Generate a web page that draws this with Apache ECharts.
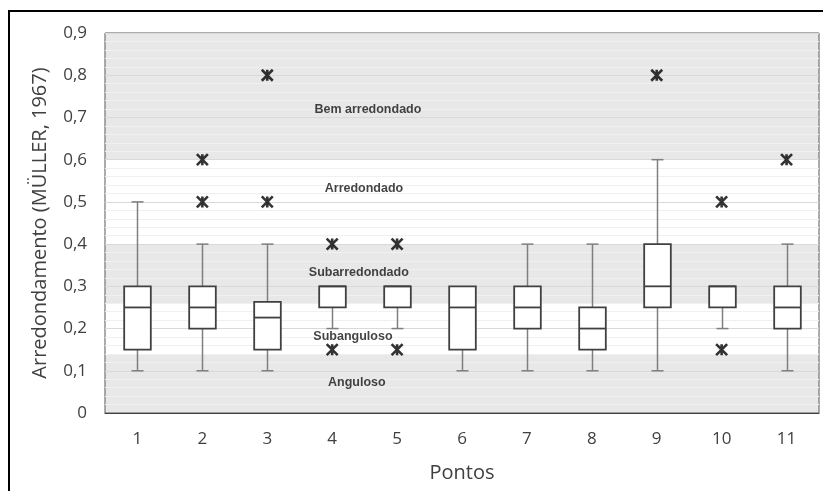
<!DOCTYPE html>
<html><head><meta charset="utf-8">
<script src="https://cdn.jsdelivr.net/npm/echarts@6/dist/echarts.min.js"></script>
<style>html,body{margin:0;padding:0;background:#fff}#c{width:823px;height:491px}</style>
</head><body><div id="c"></div>
<script>
const categories = ['1','2','3','4','5','6','7','8','9','10','11'];
const boxMin    = [0.10,0.10,0.10,0.20,0.20,0.10,0.10,0.10,0.10,0.20,0.10];
const boxQ1     = [0.15,0.20,0.15,0.25,0.25,0.15,0.20,0.15,0.25,0.25,0.20];
const boxMedian = [0.25,0.25,0.226,0.30,0.30,0.25,0.25,0.20,0.30,0.30,0.25];
const boxQ3     = [0.30,0.30,0.263,0.30,0.30,0.30,0.30,0.25,0.40,0.30,0.30];
const boxMax    = [0.50,0.40,0.40,0.30,0.30,0.30,0.40,0.40,0.60,0.30,0.40];
const outlierCat = ['2','2','3','3','4','4','5','5','9','10','10','11'];
const outlierVal = [0.5,0.6,0.5,0.8,0.4,0.15,0.4,0.15,0.8,0.5,0.15,0.6];
const bandRanges = [[0,0.14],[0.26,0.40],[0.60,0.90]];
const bandLabels = ['Anguloso','Subanguloso','Subarredondado','Arredondado','Bem arredondado'];
const bandLabelY = [0.073,0.18,0.332,0.531,0.718];
const bandLabelX = [3.88,3.82,3.91,3.99,4.05];

const chart = echarts.init(document.getElementById('c'), null, {renderer:'canvas'});
const boxData = categories.map((c,i)=>[i, boxMin[i], boxQ1[i], boxMedian[i], boxQ3[i], boxMax[i]]);
const FONT = 'Open Sans';

chart.setOption({
  animation:false,
  backgroundColor:'#fff',
  graphic:[{type:'rect', z:100, shape:{x:9,y:11,width:850,height:520}, style:{fill:'none', stroke:'#000', lineWidth:2}}],
  grid:{left:105, right:4, top:33, bottom:78, show:true, borderColor:'#595959', borderWidth:1, backgroundColor:'transparent'},
  xAxis:[{
    type:'category', data:categories, boundaryGap:true,
    axisLine:{show:true, lineStyle:{color:'#404040', width:1}},
    axisTick:{show:false},
    axisLabel:{color:'#404040', fontFamily:FONT, fontSize:17, margin:18},
    splitLine:{show:false},
    name:'Pontos', nameLocation:'middle', nameGap:50,
    nameTextStyle:{color:'#404040', fontFamily:FONT, fontSize:20}
  },{
    type:'value', min:0, max:11, show:false, splitLine:{show:false}
  }],
  yAxis:{
    type:'value', min:0, max:0.9, interval:0.1,
    axisLine:{show:false}, axisTick:{show:false},
    axisLabel:{color:'#404040', fontFamily:FONT, fontSize:17, margin:18,
      formatter:v=> v===0 ? '0' : v.toFixed(1).replace('.',',')},
    splitLine:{show:true, lineStyle:{color:'#d9d9d9', width:1}},
    minorTick:{show:false, splitNumber:5},
    minorSplitLine:{show:true, lineStyle:{color:'#f0f0f0', width:1}},
    name:'Arredondamento (MÜLLER, 1967)', nameLocation:'middle', nameGap:55, nameRotate:90,
    nameTextStyle:{color:'#404040', fontFamily:FONT, fontSize:20}
  },
  series:[
    {
      type:'custom', name:'bands', xAxisIndex:1, z:-1, silent:true,
      data: bandRanges.map(r=>[0, r[0], r[1]]),
      encode:{x:0, y:[1,2]},
      renderItem:(params, api)=>{
        const cs = params.coordSys;
        const yHi = api.coord([0, api.value(2)])[1];
        const yLo = api.coord([0, api.value(1)])[1];
        return {type:'rect', shape:{x:cs.x, y:yHi, width:cs.width, height:yLo-yHi}, style:{fill:'#e8e8e8'}};
      }
    },
    {
      type:'custom', name:'boxes', xAxisIndex:0, z:3,
      data: boxData,
      encode:{x:0, y:[1,2,3,4,5]},
      renderItem:(params, api)=>{
        const i = api.value(0);
        const bw = api.size([1,0])[0];
        const w = bw*0.41, cw = bw*0.185;
        const pMin = api.coord([i, api.value(1)]);
        const pQ1 = api.coord([i, api.value(2)]);
        const pMed = api.coord([i, api.value(3)]);
        const pQ3 = api.coord([i, api.value(4)]);
        const pMax = api.coord([i, api.value(5)]);
        const cx = Math.round(pMed[0]) + 0.5;
        const ws = {stroke:'#7f7f7f', lineWidth:1.5};
        const bs = {stroke:'#404040', lineWidth:1.8};
        const ch = [];
        if (pMax[1] < pQ3[1] - 0.5) {
          ch.push({type:'line', shape:{x1:cx,y1:pMax[1],x2:cx,y2:pQ3[1]}, style:ws});
          ch.push({type:'line', shape:{x1:cx-cw/2,y1:pMax[1],x2:cx+cw/2,y2:pMax[1]}, style:ws});
        }
        if (pMin[1] > pQ1[1] + 0.5) {
          ch.push({type:'line', shape:{x1:cx,y1:pQ1[1],x2:cx,y2:pMin[1]}, style:ws});
          ch.push({type:'line', shape:{x1:cx-cw/2,y1:pMin[1],x2:cx+cw/2,y2:pMin[1]}, style:ws});
        }
        ch.push({type:'rect', shape:{x:cx-w/2, y:pQ3[1], width:w, height:pQ1[1]-pQ3[1]}, style:Object.assign({fill:'#fff'}, bs)});
        ch.push({type:'line', shape:{x1:cx-w/2,y1:pMed[1],x2:cx+w/2,y2:pMed[1]}, style:bs});
        return {type:'group', children:ch};
      }
    },
    {
      type:'scatter', name:'outliers', xAxisIndex:0, z:4,
      symbol:'path://M0,0L10,10M10,0L0,10M5,0L5,10',
      symbolSize:[11,11],
      itemStyle:{color:'rgba(0,0,0,0)', borderColor:'#000', borderWidth:2.6},
      data: outlierCat.map((c,i)=>[c, outlierVal[i]])
    },
    {
      type:'scatter', name:'bandLabels', xAxisIndex:1, z:5, silent:true,
      symbolSize:0,
      label:{show:true, position:'inside', formatter:'{b}', color:'#141414',
        fontFamily:'Liberation Sans', fontWeight:'bold', fontSize:12.5},
      data: bandLabels.map((n,i)=>({name:n, value:[bandLabelX[i], bandLabelY[i]]}))
    }
  ]
});
</script></body></html>
